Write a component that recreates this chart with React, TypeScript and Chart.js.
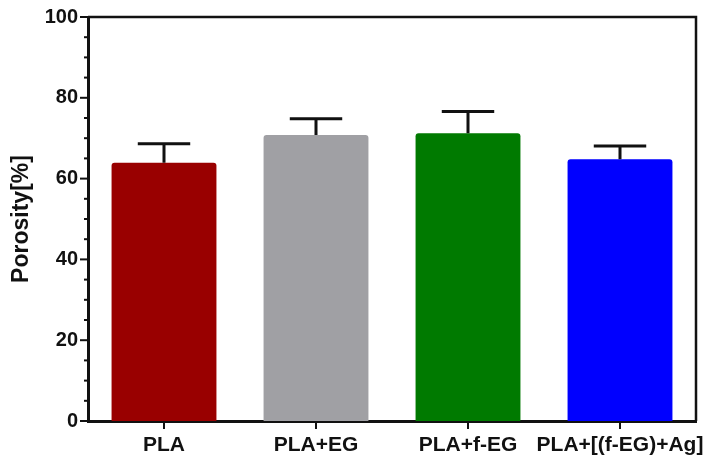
import Chart from "chart.js/auto";
import { useEffect, useRef } from "react";

const samples = ["PLA", "PLA+EG", "PLA+f-EG", "PLA+[(f-EG)+Ag]"];
const porosity = [63.9, 70.8, 71.2, 64.8];
const porosityErr = [4.7, 4.0, 5.4, 3.3];
const barColors = ["#990000", "#a0a0a4", "#007a00", "#0000ff"];
const yTicks = [0, 20, 40, 60, 80, 100];

const FONT = "Arial, 'Liberation Sans', Helvetica, sans-serif";

// frame, tick marks and one-sided error bars
const decor = {
  id: "decor",
  afterDatasetsDraw(chart: any) {
    const { ctx, chartArea } = chart;
    const x = chart.scales.x;
    const y = chart.scales.y;
    ctx.save();
    ctx.strokeStyle = "#111";
    ctx.lineCap = "butt";

    // error bars
    const meta = chart.getDatasetMeta(0);
    ctx.lineWidth = 3;
    meta.data.forEach((bar: any, i: number) => {
      const top = y.getPixelForValue(porosity[i] + porosityErr[i]);
      const base = y.getPixelForValue(porosity[i]);
      const half = bar.width * 0.25;
      ctx.beginPath();
      ctx.moveTo(bar.x, base);
      ctx.lineTo(bar.x, top);
      ctx.moveTo(bar.x - half, top);
      ctx.lineTo(bar.x + half, top);
      ctx.stroke();
    });

    // top and right frame
    ctx.lineWidth = 2.5;
    ctx.beginPath();
    ctx.moveTo(chartArea.left, chartArea.top);
    ctx.lineTo(chartArea.right, chartArea.top);
    ctx.lineTo(chartArea.right, chartArea.bottom);
    ctx.stroke();

    // y ticks, major every 20, minor every 5
    ctx.lineWidth = 2;
    for (let v = 0; v <= 100; v += 5) {
      const py = y.getPixelForValue(v);
      const len = v % 20 === 0 ? 8 : 4;
      ctx.beginPath();
      ctx.moveTo(chartArea.left - len, py);
      ctx.lineTo(chartArea.left, py);
      ctx.stroke();
    }

    // x ticks at category centres
    samples.forEach((_, i) => {
      const px = x.getPixelForValue(i);
      ctx.beginPath();
      ctx.moveTo(px, chartArea.bottom);
      ctx.lineTo(px, chartArea.bottom + 8);
      ctx.stroke();
    });
    ctx.restore();
  },
};

export default function App() {
  const ref = useRef<HTMLCanvasElement>(null);

  useEffect(() => {
    if (!ref.current) return;
    const chart = new Chart(ref.current, {
      type: "bar",
      plugins: [decor],
      data: {
        labels: samples,
        datasets: [
          {
            label: "Porosity",
            data: porosity,
            backgroundColor: barColors,
            borderRadius: 3,
            borderSkipped: "bottom",
            categoryPercentage: 1,
            barPercentage: 0.69,
          },
        ],
      },
      options: {
        animation: false,
        responsive: true,
        maintainAspectRatio: false,
        layout: { padding: { top: 17, right: 12, left: 0, bottom: 0 } },
        plugins: { legend: { display: false }, tooltip: { enabled: false } },
        scales: {
          x: {
            grid: { display: false, drawTicks: false },
            border: { color: "#111", width: 3 },
            ticks: {
              color: "#111",
              padding: 12,
              autoSkip: false,
              maxRotation: 0,
              minRotation: 0,
              font: { family: FONT, size: 21, weight: "bold" },
            },
            afterFit: (scale: any) => {
              scale.height = 44;
              scale.paddingLeft = 0;
              scale.paddingRight = 0;
            },
          },
          y: {
            min: 0,
            max: 100,
            afterBuildTicks: (scale: any) => {
              scale.ticks = yTicks.map((v) => ({ value: v }));
            },
            grid: { display: false, drawTicks: false },
            border: { color: "#111", width: 3 },
            ticks: {
              color: "#111",
              padding: 10,
              font: { family: FONT, size: 20, weight: "bold" },
            },
            title: {
              display: true,
              text: "Porosity[%]",
              color: "#111",
              padding: { top: 8, bottom: 0 },
              font: { family: FONT, size: 23, weight: "bold" },
            },
            afterFit: (scale: any) => {
              scale.width = 88;
              scale.paddingTop = 0;
              scale.paddingBottom = 0;
            },
          },
        },
      },
    });
    return () => {
      chart.destroy();
    };
  }, []);

  return (
    <div
      style={{
        position: "fixed",
        left: 0,
        top: 0,
        width: 708,
        height: 465,
        background: "#fff",
      }}
    >
      <canvas ref={ref}></canvas>
    </div>
  );
}
